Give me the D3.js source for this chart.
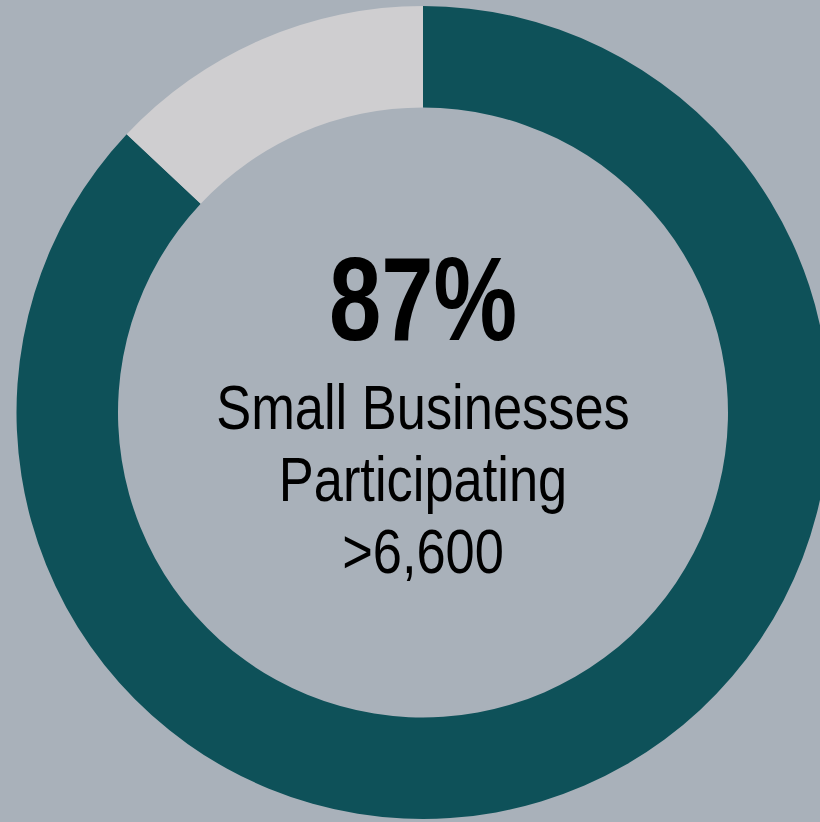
<!DOCTYPE html>
<html>
<head>
<meta charset="utf-8">
<script src="https://cdn.jsdelivr.net/npm/d3@7"></script>
<style>
  html, body { margin: 0; padding: 0; background: #a9b1ba; overflow: hidden; }
  svg { display: block; }
  .label { font-family: "Liberation Sans", Arial, sans-serif; fill: #000; }
</style>
</head>
<body>
<script>
// Share of small businesses participating
const categories = ["Participating", "Not participating"];
const values = [87, 13];
const colors = ["#0e5159", "#cfced0"];
const headline = "87%";
const captionLines = ["Small Businesses", "Participating", ">6,600"];

const width = 820, height = 822;
const cx = 423, cy = 412.5;
const outerR = 406.5, innerR = 305;

const svg = d3.select("body").append("svg")
  .attr("width", width)
  .attr("height", height);

svg.append("rect").attr("width", width).attr("height", height).attr("fill", "#a9b1ba");

const pie = d3.pie().sort(null).value(d => d.value);
const arc = d3.arc().innerRadius(innerR).outerRadius(outerR);

const data = categories.map((c, i) => ({ name: c, value: values[i], color: colors[i] }));

const g = svg.append("g").attr("transform", `translate(${cx},${cy})`);
g.selectAll("path")
  .data(pie(data))
  .join("path")
  .attr("d", arc)
  .attr("fill", d => d.data.color);

// Centre labels, set in a condensed style by narrowing the glyphs horizontally
g.append("text")
  .attr("class", "label")
  .attr("text-anchor", "middle")
  .attr("transform", `translate(0,${340 - cy}) scale(0.79,1)`)
  .attr("font-size", 119)
  .attr("font-weight", "bold")
  .text(headline);

const baselines = [429, 501, 573];
g.selectAll("text.caption")
  .data(captionLines)
  .join("text")
  .attr("class", "label caption")
  .attr("text-anchor", "middle")
  .attr("transform", (d, i) => `translate(0,${baselines[i] - cy}) scale(0.832,1)`)
  .attr("font-size", 63)
  .text(d => d);
</script>
</body>
</html>
